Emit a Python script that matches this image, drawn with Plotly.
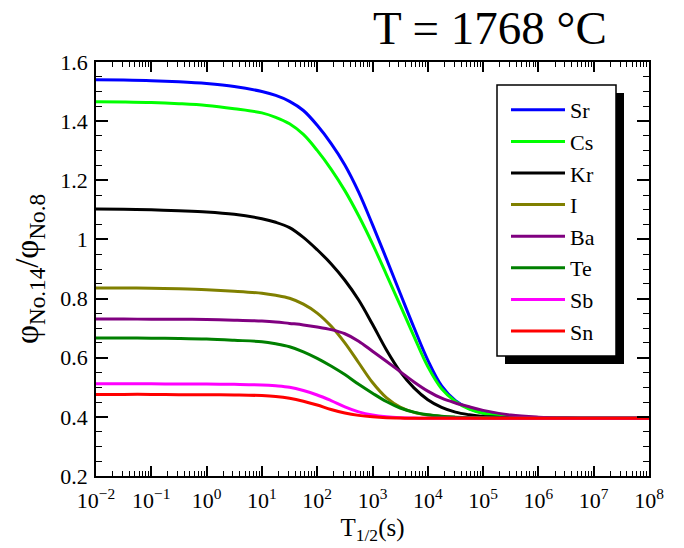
import plotly.graph_objects as go

# exponents of the half-life axis (T1/2 = 10**e seconds)
log_T = [-2, -1.5, -1, -0.5, 0, 0.5, 1, 1.25, 1.5, 1.75, 2, 2.25, 2.5, 2.75, 3, 3.25, 3.5,
         3.75, 4, 4.25, 4.5, 4.75, 5, 5.5, 6, 6.5, 7, 7.5, 8]
T_half = [10 ** e for e in log_T]

names = ["Sr", "Cs", "Kr", "I", "Ba", "Te", "Sb", "Sn"]
colors = ["#0000ff", "#00ff00", "#000000", "#808000", "#800080", "#008000", "#ff00ff", "#ff0000"]

sr = [1.540, 1.539, 1.537, 1.533, 1.527, 1.517, 1.500, 1.487, 1.467, 1.436, 1.386, 1.325, 1.252, 1.160, 1.050,
      0.935, 0.818, 0.702, 0.592, 0.505, 0.455, 0.428, 0.413, 0.400, 0.397, 0.396, 0.395, 0.395, 0.395]
cs = [1.466, 1.465, 1.463, 1.459, 1.453, 1.442, 1.428, 1.413, 1.391, 1.355, 1.301, 1.238, 1.165, 1.080, 0.985,
      0.882, 0.778, 0.672, 0.570, 0.495, 0.452, 0.426, 0.412, 0.400, 0.397, 0.396, 0.395, 0.395, 0.395]
kr = [1.103, 1.102, 1.100, 1.097, 1.093, 1.085, 1.070, 1.058, 1.040, 1.007, 0.965, 0.918, 0.862, 0.795, 0.713,
      0.627, 0.553, 0.498, 0.458, 0.432, 0.416, 0.407, 0.401, 0.397, 0.396, 0.395, 0.395, 0.395, 0.395]
i_ = [0.836, 0.836, 0.835, 0.833, 0.830, 0.825, 0.818, 0.811, 0.801, 0.781, 0.751, 0.707, 0.650, 0.583, 0.516,
      0.465, 0.433, 0.415, 0.406, 0.401, 0.398, 0.397, 0.396, 0.395, 0.395, 0.395, 0.395, 0.395, 0.395]
ba = [0.731, 0.731, 0.730, 0.730, 0.729, 0.727, 0.724, 0.721, 0.716, 0.711, 0.704, 0.695, 0.681, 0.656, 0.622,
      0.588, 0.553, 0.518, 0.487, 0.463, 0.447, 0.434, 0.422, 0.406, 0.399, 0.396, 0.395, 0.395, 0.395]
te = [0.667, 0.667, 0.666, 0.665, 0.663, 0.659, 0.654, 0.647, 0.637, 0.620, 0.598, 0.572, 0.543, 0.510, 0.480,
      0.452, 0.430, 0.416, 0.407, 0.402, 0.399, 0.397, 0.396, 0.395, 0.395, 0.395, 0.395, 0.395, 0.395]
sb = [0.512, 0.512, 0.512, 0.511, 0.511, 0.510, 0.508, 0.505, 0.500, 0.489, 0.474, 0.455, 0.434, 0.417, 0.406,
      0.400, 0.397, 0.396, 0.395, 0.395, 0.395, 0.395, 0.395, 0.395, 0.395, 0.395, 0.395, 0.395, 0.395]
sn = [0.476, 0.476, 0.476, 0.475, 0.475, 0.474, 0.472, 0.469, 0.463, 0.453, 0.440, 0.425, 0.413, 0.405, 0.400,
      0.397, 0.396, 0.395, 0.395, 0.395, 0.395, 0.395, 0.395, 0.395, 0.395, 0.395, 0.395, 0.395, 0.395]
series = [sr, cs, kr, i_, ba, te, sb, sn]

x_tickvals = [10 ** e for e in range(-2, 9)]
x_ticktext = ["10<sup>" + str(e).replace("-", "\u2212") + "</sup>" for e in range(-2, 9)]
y_tickvals = [0.2, 0.4, 0.6, 0.8, 1.0, 1.2, 1.4, 1.6]
y_ticktext = ["0.2", "0.4", "0.6", "0.8", "1", "1.2", "1.4", "1.6"]

FONT = "Liberation Serif"

fig = go.Figure()
for nm, col, ys in zip(names, colors, series):
    fig.add_trace(go.Scatter(
        x=T_half, y=ys, name=nm, mode="lines",
        line=dict(color=col, width=3, shape="spline", smoothing=1.0),
    ))

W, H = 684, 548
OFF = 8  # page body offset
# plot area on screen: x 96..649, y 62..476
SX0, SX1, SY0, SY1 = 96, 649, 62, 476
L, R, T, B = SX0 - OFF, W - (SX1 - OFF), SY0 - OFF, H - (SY1 - OFF)
pw, ph = SX1 - SX0, SY1 - SY0

def px(sx):
    return (sx - SX0) / pw

def py(sy):
    return (SY1 - sy) / ph

# legend shadow and frame
fig.add_shape(type="rect", xref="paper", yref="paper",
              x0=px(505), x1=px(624), y0=py(364), y1=py(93),
              fillcolor="black", line=dict(width=0), layer="above")
fig.add_shape(type="rect", xref="paper", yref="paper",
              x0=px(497), x1=px(616), y0=py(356), y1=py(85),
              fillcolor="white", line=dict(color="black", width=1.5), layer="above")

fig.add_annotation(text="T = 1768 \u00b0C", xref="paper", yref="paper",
                   x=px(609), y=py(28), xanchor="right", yanchor="middle",
                   showarrow=False, font=dict(family=FONT, size=47, color="black"))

fig.update_layout(
    width=W, height=H,
    margin=dict(l=L, r=R, t=T, b=B, autoexpand=False),
    paper_bgcolor="white", plot_bgcolor="white",
    font=dict(family=FONT, color="black", size=22),
    showlegend=True,
    legend=dict(
        x=px(506), y=py(89), xanchor="left", yanchor="top",
        bgcolor="rgba(0,0,0,0)", borderwidth=0,
        font=dict(family=FONT, size=22, color="black"),
        itemwidth=54, tracegroupgap=0,
    ),
    xaxis=dict(
        type="log", range=[-2, 8], automargin=False,
        tickvals=x_tickvals, ticktext=x_ticktext,
        ticks="inside", ticklen=10, tickwidth=1.5, tickcolor="black",
        minor=dict(ticks="inside", ticklen=5, tickwidth=1, tickcolor="black", dtick="D1", showgrid=False),
        showline=True, linecolor="black", linewidth=1.5, mirror="allticks",
        showgrid=False, zeroline=False, ticklabelstandoff=4,
        tickfont=dict(family=FONT, size=22),
        title=dict(text="T<sub>1/2</sub>(s)", font=dict(family=FONT, size=25), standoff=6),
    ),
    yaxis=dict(
        range=[0.2, 1.6], automargin=False,
        tickvals=y_tickvals, ticktext=y_ticktext,
        ticks="inside", ticklen=12, tickwidth=1.5, tickcolor="black",
        minor=dict(ticks="inside", ticklen=6, tickwidth=1, tickcolor="black", dtick=0.05, showgrid=False),
        showline=True, linecolor="black", linewidth=1.5, mirror="allticks",
        showgrid=False, zeroline=False, ticklabelstandoff=2,
        tickfont=dict(family=FONT, size=22),
        title=dict(text="\u03c6<sub>No.14</sub>/\u03c6<sub>No.8</sub>", font=dict(family=FONT, size=33), standoff=12),
    ),
)

fig.write_html("out.html")
